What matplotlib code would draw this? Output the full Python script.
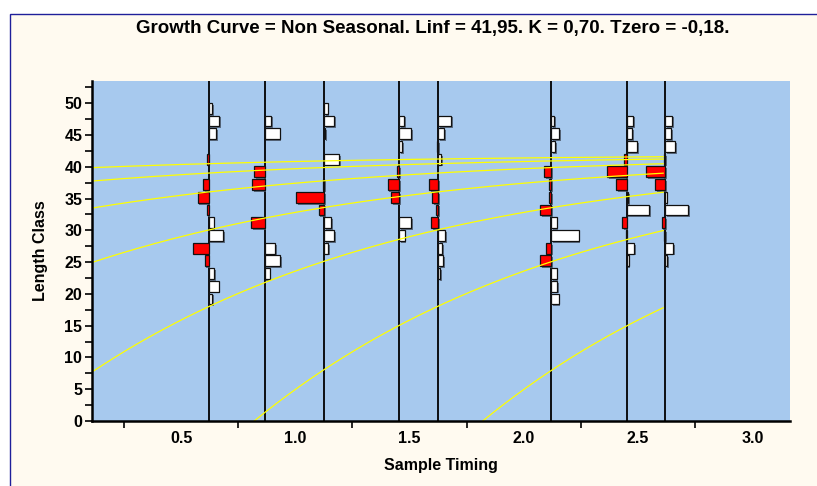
import numpy as np
import matplotlib
matplotlib.use('Agg')
import matplotlib.pyplot as plt
from matplotlib import patheffects as pe
from matplotlib.patches import Rectangle

plt.rcParams['font.family'] = ['Liberation Sans', 'DejaVu Sans']

# ---------------- data ----------------
title = "Growth Curve = Non Seasonal. Linf = 41,95. K = 0,70. Tzero = -0,18."
linf = 41.95
k_growth = 0.70
tzero = -0.18
cohort_offsets = [-4, -3, -2, -1, 0, 1, 2]

sample_times = [0.62, 0.865, 1.125, 1.455, 1.625, 2.12, 2.45, 2.62]
class_lower = [18, 20, 22, 24, 26, 28, 30, 32, 34, 36, 38, 40, 42, 44, 46, 48]

# restructured scores per sample (classes 18-20 ... 48-50)
s1 = [0.14, 0.36, 0.21, -0.14, -0.57, 0.53, 0.18, -0.07, -0.39, -0.18, 0, -0.07, 0, 0.26, 0.37, 0.13]
s2 = [0, 0, 0.18, 0.55, 0.39, 0, -0.48, 0, 0, -0.43, -0.38, 0, 0, 0.54, 0.23, 0]
s3 = [0, 0, 0, 0, 0.14, 0.36, 0.25, -0.19, -1.0, -0.04, 0, 0.53, 0, 0.03, 0.36, 0.13]
s4 = [0, 0, 0, 0, 0, 0.19, 0.42, 0, -0.29, -0.42, -0.08, 0, 0.10, 0.42, 0.17, 0]
s5 = [0, 0, 0.07, 0.19, 0.13, 0.25, -0.25, -0.07, -0.21, -0.33, 0, 0.10, -0.05, 0.21, 0.45, 0]
s6 = [0.26, 0.21, 0.19, -0.40, -0.20, 0.98, 0.19, -0.40, -0.07, -0.08, -0.26, 0, 0.13, 0.29, 0.11, 0]
s7 = [0, 0, 0, 0.07, 0.28, -0.04, -0.15, 0.80, 0.05, -0.37, -0.70, -0.10, 0.37, 0.20, 0.23, 0]
s8 = [0, 0, 0, 0.07, 0.26, -0.04, -0.14, 0.80, 0.04, -0.36, -0.69, -0.07, 0.35, 0.19, 0.24, 0]
scores = [s1, s2, s3, s4, s5, s6, s7, s8]

x_ticks = [0.5, 1.0, 1.5, 2.0, 2.5, 3.0]
x_tick_labels = ['0.5', '1.0', '1.5', '2.0', '2.5', '3.0']
y_ticks = [0, 5, 10, 15, 20, 25, 30, 35, 40, 45, 50]

# ---------------- figure ----------------
W, H = 817, 486
fig = plt.figure(figsize=(W / 100, H / 100), dpi=100, facecolor='white')
bg = Rectangle((10 / W, -0.1), 1.2, 1 - 14 / H + 0.1, transform=fig.transFigure,
               facecolor='#FFFAF0', edgecolor='#1f1f9a', lw=1.0, zorder=-10)
fig.add_artist(bg)

ax = fig.add_axes([92 / W, (H - 421) / H, (790 - 92) / W, (421 - 81) / H])
ax.set_zorder(1)
ax.set_facecolor('#A7C9EE')
xmin, xmax = 0.11, 3.165
ax.set_xlim(xmin, xmax)
ax.set_ylim(0, 53.5)

bar_scale = 0.1224
shadow = [pe.SimplePatchShadow(offset=(1.3, -1.3), shadow_rgbFace='#4a5668', alpha=0.8), pe.Normal()]

for t, sc in zip(sample_times, scores):
    ax.axvline(t, color='black', lw=1.3, zorder=2)
    for lo, v in zip(class_lower, sc):
        if v == 0:
            continue
        col = 'white' if v > 0 else '#FF0000'
        ax.barh(lo + 1.2, v * bar_scale, left=t, height=1.7, color=col,
                edgecolor='#111111', linewidth=0.9, zorder=3, path_effects=shadow)

t_end = sample_times[-1] - 0.01
for n in cohort_offsets:
    t0 = tzero + n
    ts = np.linspace(max(xmin, t0), t_end, 400)
    ax.plot(ts, linf * (1 - np.exp(-k_growth * (ts - t0))), color='#FFFF00', lw=0.9, zorder=4)

# axes styling
for s in ['top', 'right']:
    ax.spines[s].set_visible(False)
for s in ['left', 'bottom']:
    ax.spines[s].set_linewidth(1.8)
    ax.spines[s].set_zorder(6)

ax.set_xticks(x_ticks)
ax.set_xticklabels(x_tick_labels)
ax.set_xticks(np.arange(0.25, 3.0, 0.5), minor=True)
ax.tick_params(axis='x', which='major', length=0, pad=7)
ax.tick_params(axis='x', which='minor', length=5, width=1.2, direction='out')
ax.set_yticks(y_ticks)
ax.set_yticks(np.arange(2.5, 53, 5), minor=True)
ax.tick_params(axis='y', which='both', length=5, width=1.2, direction='out', pad=2)
for lab in ax.get_xticklabels() + ax.get_yticklabels():
    lab.set_fontweight('bold')
    lab.set_fontsize(11.5)

ax.set_xlabel('Sample Timing', fontsize=11.5, fontweight='bold', labelpad=9)
ax.set_ylabel('Length Class', fontsize=11.5, fontweight='bold', labelpad=12)
fig.text(433 / W, 1 - 28 / H, title, ha='center', va='center', fontsize=13.5, fontweight='bold')

fig.savefig('out.png', dpi=100, facecolor=fig.get_facecolor())
